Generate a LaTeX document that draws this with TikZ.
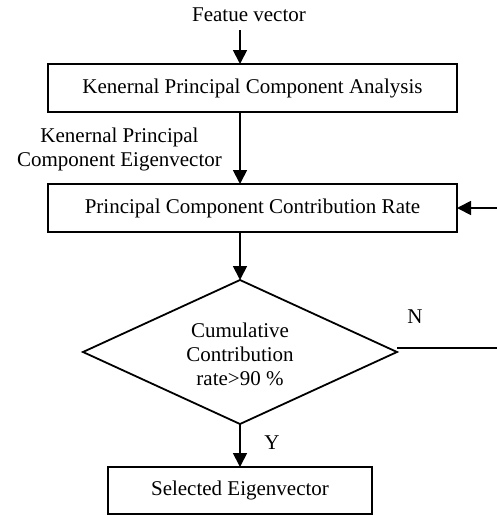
\documentclass[tikz,border=0pt]{standalone}
\usepackage{fontspec}
\setmainfont{Liberation Serif}
\usetikzlibrary{shapes.geometric,arrows.meta}
\begin{document}
\begin{tikzpicture}[x=0.5pt,y=-0.5pt,
  every node/.style={font=\fontsize{10.5}{12}\selectfont},
  box/.style={draw,line width=0.9pt,inner sep=0pt,outer sep=0pt},
  conn/.style={line width=0.9pt},
  arr/.style={conn,-{Triangle[length=7pt,width=7pt]}},
  lbl/.style={inner sep=0pt,align=center}]
\useasboundingbox (0,0) rectangle (497,515);
\node[lbl] (fv) at (249,15) {Featue vector};
\coordinate (ax) at (240,30);
\node[box,minimum width=204.5pt,minimum height=24pt] (b1) at (252.5,88) {Kenernal Principal Component Analysis};
\node[lbl] (kl) at (119.5,149) {Kenernal Principal\\Component Eigenvector};
\node[box,minimum width=204.5pt,minimum height=24pt] (b2) at (252.5,208) {Principal Component Contribution Rate};
\node[box,diamond,minimum width=157pt,minimum height=72pt] (d) at (240,352) {};
\node[lbl,align=center] (dt) at (240,354) {Cumulative\\Contribution\\rate>90 \%};
\node[box,minimum width=132pt,minimum height=23.5pt] (b3) at (240,490.5) {Selected Eigenvector};
\node[lbl] (n) at (415,317) {N};
\node[lbl] (y) at (272,443) {Y};
\coordinate (fb) at (505,348);
\draw[arr] (ax) -- (ax |- b1.north);
\draw[arr] (ax |- b1.south) -- (ax |- b2.north);
\draw[arr] (ax |- b2.south) -- (d.north);
\draw[arr] (d.south) -- (b3.north);
\draw[arr] (d.east |- fb) -- (fb) |- (b2.east);
\end{tikzpicture}
\end{document}
